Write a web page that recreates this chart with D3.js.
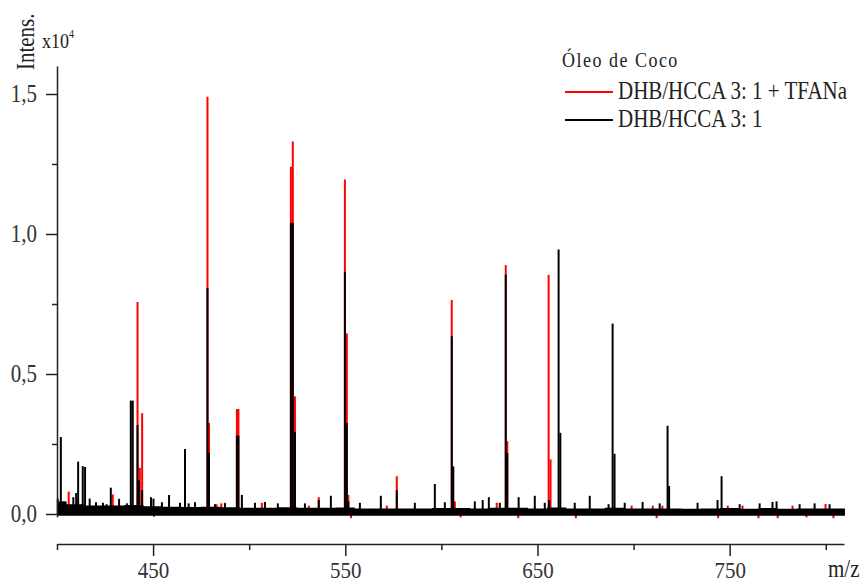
<!DOCTYPE html>
<html>
<head>
<meta charset="utf-8">
<script src="https://cdn.jsdelivr.net/npm/d3@7"></script>
<style>
  body { margin: 0; background: #fff; }
  svg text {
    font-family: 'Liberation Serif', 'Times New Roman', serif;
    transform-box: fill-box;
    transform-origin: center;
    transform: scaleY(1.15);
  }
  svg .x-axis text { transform: scaleY(1.1); }
</style>
</head>
<body>
<div id="chart"></div>
<script>
// peaks of the black spectrum (DHB/HCCA 3:1)
const blackMz = [
  400.4, 402.0, 403.5, 408.5, 410.0, 411.0, 413.4, 414.6, 417.0, 420.3, 423.9, 425.8,
  428.0, 432.3, 436.4, 438.4, 439.4, 441.9, 442.6, 444.3, 448.9, 450.2, 454.6, 458.3,
  464.0, 466.6, 468.5, 471.8, 478.3, 479.1, 482.2, 487.4, 493.6, 494.4, 496.2, 503.0,
  508.2, 514.9, 521.7, 522.7, 523.8, 529.0, 536.2, 542.5, 549.8, 550.8, 551.6, 557.6,
  568.5, 576.8, 586.2, 596.6, 601.8, 605.4, 606.2, 617.4, 621.5, 624.7, 630.4, 633.5,
  634.3, 640.2, 648.6, 653.8, 656.0, 661.0, 661.9, 669.4, 677.2, 687.0, 689.1, 690.1,
  695.4, 704.7, 713.6, 717.7, 718.5, 733.3, 743.7, 745.8, 755.2, 765.6, 772.3, 774.4,
  786.4, 794.2, 802.0
];
const blackInt = [
  550, 2750, 450, 600, 750, 1870, 1710, 1680, 550, 420, 400, 350,
  940, 540, 380, 4050, 4050, 3180, 1200, 850, 600, 550, 420, 680,
  400, 2320, 380, 420, 8070, 2180, 350, 380, 2800, 2800, 680, 400,
  430, 380, 10400, 10400, 2930, 380, 500, 650, 8650, 3250, 450, 400,
  650, 850, 400, 1070, 420, 6350, 1700, 450, 500, 600, 400, 8550,
  2180, 600, 650, 400, 500, 9450, 2900, 400, 650, 350, 6800, 2150,
  400, 430, 380, 3150, 1000, 400, 500, 1350, 350, 380, 430, 450,
  350, 380, 350
];

// peaks of the red spectrum (DHB/HCCA 3:1 + TFANa)
const redMz = [
  406.1, 413.0, 429.0, 441.9, 443.1, 444.3, 450.5, 478.3, 479.1, 483.0, 485.5, 487.4,
  493.6, 494.4, 506.6, 521.7, 522.7, 523.8, 531.0, 536.2, 549.8, 550.8, 551.6, 553.0,
  571.6, 576.8, 605.4, 607.0, 610.0, 628.8, 633.5, 634.3, 640.0, 655.8, 656.8, 670.0,
  699.0, 710.0, 712.0, 715.0, 744.0, 749.0, 756.7, 765.0, 775.0, 782.7, 790.0, 799.9,
  804.0
];
const redInt = [
  800, 350, 700, 7570, 1650, 3600, -100, 14900, 3250, 350, 380, 400,
  3750, 3750, 400, 12400, 13300, 4200, 300, 600, 11950, 6450, 680, -150,
  300, 1350, 7640, 450, -120, 400, 8890, 2600, -150, 8540, 1950, -150,
  300, 300, -150, 300, -150, 300, 300, -150, -150, 300, -120, 360,
  -150
];

// noise band of the black spectrum
const noiseMz = d3.range(400, 811, 10);
const noiseHi = [
  450, 350, 300, 300, 320, 280, 260, 250, 260, 240, 220, 220, 240, 220,
  220, 230, 200, 200, 200, 200, 210, 210, 200, 220, 220, 200, 230, 200,
  200, 220, 200, 200, 200, 190, 200, 210, 190, 210, 190, 200, 200, 200
];
const noiseFloor = -60;

const yTicks = [0, 5000, 10000, 15000];
const yMinorTicks = [2500, 7500, 12500];
const xTicks = [450, 550, 650, 750];
const xMinorTicks = [400, 500, 600, 700, 800];

const width = 864,
  height = 583;

const svg = d3
  .select('#chart')
  .append('svg')
  .attr('width', width)
  .attr('height', height);

const x = d3.scaleLinear().domain([400, 809.5]).range([57, 844]);
const y = d3.scaleLinear().domain([-100, 16000]).range([516.8, 66]);

const redPeaks = redMz.map((mz, i) => ({ mz, value: redInt[i] }));
const blackPeaks = blackMz.map((mz, i) => ({ mz, value: blackInt[i] }));

/* ------- SPECTRA ------- */
const drawSticks = (peaks, color) => {
  svg
    .append('g')
    .selectAll('line')
    .data(peaks)
    .join('line')
    .attr('x1', (d) => x(d.mz))
    .attr('x2', (d) => x(d.mz))
    .attr('y1', y(0))
    .attr('y2', (d) => y(d.value))
    .attr('stroke', color)
    .attr('stroke-width', 2);
};

drawSticks(redPeaks, '#ff0000');

const noise = noiseMz.map((mz, i) => ({ mz, hi: noiseHi[i] }));
svg
  .append('path')
  .datum(noise)
  .attr('fill', '#000')
  .attr(
    'd',
    d3
      .area()
      .curve(d3.curveStep)
      .x((d) => x(d.mz))
      .y0(y(noiseFloor))
      .y1((d) => y(d.hi))
  );

drawSticks(blackPeaks, '#000');

/* ------- AXES ------- */
const styleAxis = (g) => {
  g.attr('font-size', 21).attr('font-family', null);
  g.selectAll('.domain').attr('stroke', '#222').attr('stroke-width', 1.5);
  g.selectAll('.tick line').attr('stroke', '#222').attr('stroke-width', 1.5);
  g.selectAll('.tick text').attr('fill', '#333');
};

const yFormat = (d) => d3.format('.1f')(d / 1e4).replace('.', ',');

svg
  .append('g')
  .attr('transform', `translate(${x(400)},0)`)
  .call(d3.axisLeft(y).tickValues(yTicks).tickSize(11).tickSizeOuter(0).tickPadding(9).tickFormat(yFormat))
  .call(styleAxis);

svg
  .append('g')
  .attr('transform', `translate(${x(400)},0)`)
  .call(d3.axisLeft(y).tickValues(yMinorTicks).tickSize(5).tickFormat(''))
  .call(styleAxis)
  .call((g) => g.select('.domain').remove());

const axisY = 544;

svg
  .append('g')
  .attr('class', 'x-axis')
  .attr('transform', `translate(0,${axisY})`)
  .call(d3.axisBottom(x).tickValues(xTicks).tickSize(12).tickSizeOuter(0).tickPadding(6))
  .call(styleAxis);

svg
  .append('g')
  .attr('transform', `translate(0,${axisY})`)
  .call(d3.axisBottom(x).tickValues(xMinorTicks).tickSize(6).tickFormat(''))
  .call(styleAxis)
  .call((g) => g.select('.domain').remove());

svg
  .append('text')
  .attr('class', 'x-axis')
  .attr('x', 828)
  .attr('y', 576)
  .attr('font-size', 21)
  .attr('fill', '#222')
  .text('m/z');

svg
  .append('g')
  .attr('transform', 'translate(33,70) rotate(-90)')
  .append('text')
  .attr('font-size', 21)
  .attr('fill', '#222')
  .text('Intens.');

const unit = svg.append('text').attr('x', 42).attr('y', 47).attr('font-size', 18).attr('fill', '#222');
unit.append('tspan').text('x10');
unit.append('tspan').attr('font-size', 10).attr('dy', -9).text('4');

/* ------- LEGEND ------- */
const legend = svg.append('g');

legend
  .append('text')
  .attr('x', 562)
  .attr('y', 66)
  .attr('font-size', 18)
  .attr('letter-spacing', 1.5)
  .attr('fill', '#222')
  .text('Óleo de Coco');

const legendItems = [
  { label: 'DHB/HCCA 3: 1 + TFANa', color: '#ff0000', y: 92 },
  { label: 'DHB/HCCA 3: 1', color: '#000', y: 120 },
];

legendItems.forEach((item) => {
  legend
    .append('line')
    .attr('x1', 565)
    .attr('x2', 613)
    .attr('y1', item.y)
    .attr('y2', item.y)
    .attr('stroke', item.color)
    .attr('stroke-width', 2);
  legend
    .append('text')
    .attr('x', 618)
    .attr('y', item.y + 6)
    .attr('font-size', 21)
    .attr('fill', '#222')
    .text(item.label);
});
</script>
</body>
</html>
